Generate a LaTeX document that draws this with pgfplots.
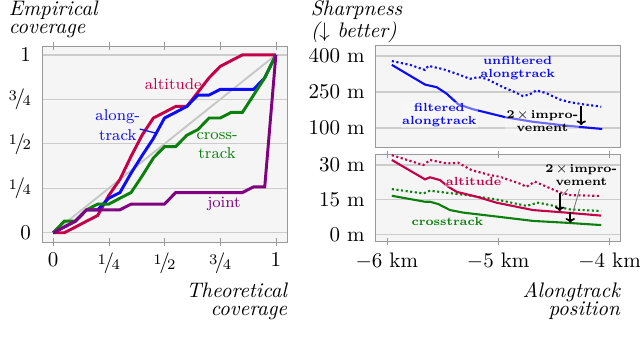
\documentclass[border=0pt]{standalone}
\usepackage{pgfplots}
\pgfplotsset{compat=1.18}
\usetikzlibrary{arrows.meta}
\definecolor{cAlt}{RGB}{196,0,72}
\definecolor{cAlong}{RGB}{12,12,245}
\definecolor{cCross}{RGB}{12,128,12}
\definecolor{cJoint}{RGB}{128,0,128}
\newcommand{\nf}[2]{\raisebox{.45ex}{\scriptsize #1}\kern-.12em/\kern-.12em\raisebox{-.1ex}{\scriptsize #2}}
\newcommand{\tls}{\lineskiplimit=-20pt\relax}
\newcommand{\ttl}{\itshape\fontsize{10}{8.6}\selectfont\tls}
\newcommand{\ttlb}{\itshape\fontsize{10}{10.6}\selectfont\tls}
\pgfplotsset{
  base/.style={
    scale only axis, clip=false,
    axis background/.style={fill=black!4},
    axis line style={draw=black!40},
    ymajorgrids, major grid style={draw=black!20,line width=0.6pt},
    tick align=center, major tick length=3.5pt,
    xtick style={draw=black!40}, ytick style={draw=none},
  },
}
\tikzset{
  ann/.style={font=\fontsize{5.6}{6.4}\selectfont\bfseries, align=center, inner sep=0.5pt},
  lann/.style={font=\fontsize{7.5}{9.5}\selectfont, align=center, inner sep=0.5pt},
  veil/.style={fill=black!1, fill opacity=0.4, text opacity=1},
}
\begin{document}
\begin{tikzpicture}
\path[use as bounding box] (0,0) rectangle (304.76pt,165.71pt);
% titles
\node[anchor=north west, align=left, inner sep=0pt, font=\ttl] at (4pt,165.5pt) {Empirical\\coverage};
\node[anchor=north east, align=right, inner sep=0pt, font=\ttl] at (136.9pt,31pt) {Theoretical\\coverage};
\node[anchor=north west, align=left, inner sep=0pt, font=\ttlb] at (147.8pt,165.6pt) {Sharpness\\($\downarrow$ better)};
\node[anchor=north east, align=right, inner sep=0pt, font=\ttl] at (295.4pt,31.2pt) {Alongtrack\\position};

% ---------------- left: coverage
\begin{axis}[base, at={(20pt,50.48pt)}, anchor=south west, width=116.67pt, height=93.33pt,
  xmin=-0.05, xmax=1.05, ymin=-0.052, ymax=1.05,
  xtick={0,0.25,0.5,0.75,1}, xticklabels={$0$,\nf14,\nf12,\nf34,$1$},
  ytick={0,0.25,0.5,0.75,1}, yticklabels={$0$,\nf14,\nf12,\nf34,$1$}]
\addplot[black!22, line width=0.9pt] coordinates {(0,0)(1,1)};
\addplot[cAlt, line width=1.4pt] coordinates {
(0,0)(0.05,0)(0.1,0.032)(0.15,0.065)(0.2,0.097)(0.25,0.21)(0.3,0.30)(0.35,0.43)(0.4,0.55)
(0.45,0.645)(0.5,0.677)(0.55,0.71)(0.6,0.71)(0.65,0.79)(0.7,0.871)(0.75,0.935)(0.8,0.968)
(0.85,1)(0.9,1)(0.95,1)(1,1)};
\addplot[cAlong, line width=1.4pt] coordinates {
(0,0)(0.05,0.032)(0.1,0.065)(0.15,0.129)(0.2,0.129)(0.25,0.194)(0.3,0.226)(0.35,0.335)(0.4,0.435)
(0.45,0.53)(0.5,0.645)(0.55,0.677)(0.6,0.71)(0.65,0.774)(0.7,0.774)(0.75,0.806)(0.8,0.806)
(0.85,0.806)(0.9,0.806)(0.95,0.871)(1,1)};
\addplot[cCross, line width=1.4pt] coordinates {
(0,0)(0.05,0.065)(0.1,0.065)(0.15,0.129)(0.2,0.161)(0.25,0.161)(0.3,0.194)(0.35,0.226)(0.4,0.32)
(0.45,0.42)(0.5,0.484)(0.55,0.484)(0.6,0.548)(0.65,0.58)(0.7,0.645)(0.75,0.645)(0.8,0.677)
(0.85,0.677)(0.9,0.774)(0.95,0.871)(1,1)};
\addplot[cJoint, line width=1.4pt] coordinates {
(0,0)(0.05,0.032)(0.1,0.065)(0.15,0.129)(0.2,0.129)(0.25,0.129)(0.3,0.129)(0.35,0.161)(0.4,0.161)
(0.45,0.161)(0.5,0.161)(0.55,0.226)(0.6,0.226)(0.65,0.226)(0.7,0.226)(0.75,0.226)(0.8,0.226)
(0.85,0.226)(0.9,0.258)(0.95,0.258)(1,1)};
\draw[cAlong, line width=0.6pt] (axis cs:0.389,0.583) -- (axis cs:0.464,0.559);
\node[lann, text=cAlt] at (axis cs:0.539,0.837) {altitude};
\node[lann, text=cAlong] at (axis cs:0.29,0.606) {along-\\track};
\node[lann, text=cCross] at (axis cs:0.736,0.49) {cross-\\track};
\node[lann, text=cJoint] at (axis cs:0.767,0.162) {joint};
\end{axis}

% ---------------- right top: alongtrack sharpness
\begin{axis}[base, at={(178.9pt,95.71pt)}, anchor=south west, width=116.67pt, height=48.24pt,
  xmin=-6.1, xmax=-3.9, ymin=21, ymax=443,
  xtick={-6,-5,-4}, xticklabels={}, xtick style={draw=none},
  ytick={100,250,400}, yticklabels={100 m,250 m,400 m}]
\addplot[cAlong, line width=1pt, dash pattern=on 1pt off 1.2pt] coordinates {
(-5.955,379)(-5.791,363)(-5.657,342)(-5.627,359)(-5.493,345)(-5.373,326)(-5.254,305)(-5.18,312)
(-5.105,305)(-4.956,270)(-4.867,253)(-4.777,233)(-4.717,240)(-4.657,257)(-4.568,245)(-4.448,219)
(-4.359,208)(-4.24,199)(-4.075,189)};
\addplot[cAlong, line width=1pt] coordinates {
(-5.955,363)(-5.657,281)(-5.552,270)(-5.463,243)(-5.359,199)(-5.225,178)(-4.926,144)(-4.687,126)
(-4.389,110)(-4.066,96)};
\node[ann, text=cAlong] at (axis cs:-4.825,350) {unfiltered\\alongtrack};
\node[ann, text=cAlong, veil] at (axis cs:-5.529,153) {filtered\\alongtrack};
\node[ann, veil] at (axis cs:-4.603,130) {2\,$\times$\,impro-\\vement};
\draw[black, line width=0.8pt, -{To[length=2.2pt,width=4.5pt]}] (axis cs:-4.254,192) -- (axis cs:-4.254,112);
\end{axis}

% ---------------- right bottom: altitude / crosstrack
\begin{axis}[base, at={(178.9pt,50.62pt)}, anchor=south west, width=116.67pt, height=41.43pt,
  xmin=-6.1, xmax=-3.9, ymin=-3.2, ymax=34.5,
  xtick={-6,-5,-4}, xticklabels={$-6$ km,$-5$ km,$-4$ km},
  ytick={0,15,30}, yticklabels={0 m,15 m,30 m}]
\addplot[cAlt, line width=1pt, dash pattern=on 1pt off 1.2pt] coordinates {
(-5.955,34.3)(-5.672,30)(-5.612,32.2)(-5.463,30.7)(-5.359,31)(-5.239,27.8)(-5.075,25.7)(-4.986,24.9)
(-4.807,22)(-4.747,20.6)(-4.672,22.8)(-4.598,21.3)(-4.464,18.5)(-4.359,17)(-4.075,16.6)};
\addplot[cCross, line width=1pt, dash pattern=on 1pt off 1.2pt] coordinates {
(-5.955,19.6)(-5.672,17.7)(-5.612,18.9)(-5.463,18)(-5.284,17)(-5.015,15.1)(-4.986,14.8)
(-4.747,12.3)(-4.642,13.7)(-4.538,12.7)(-4.359,10.8)(-4.075,10.1)};
\addplot[cAlt, line width=1pt] coordinates {
(-5.955,32.2)(-5.657,23.8)(-5.612,24.7)(-5.523,23.5)(-5.448,20.6)(-5.373,18.4)(-5.194,16.3)
(-5.015,13.7)(-4.687,10.5)(-4.389,9.4)(-4.075,8.1)};
\addplot[cCross, line width=1pt] coordinates {
(-5.955,16.7)(-5.657,14.1)(-5.612,14.1)(-5.538,13.1)(-5.433,10.5)(-5.314,9.4)(-5.015,7.7)
(-4.687,5.8)(-4.389,5.0)(-4.075,4.0)};
\node[ann, text=cAlt, veil] at (axis cs:-5.221,22.8) {altitude};
\node[ann, text=cCross] at (axis cs:-5.457,5.76) {crosstrack};
\node[ann] at (axis cs:-4.254,25.8) {2\,$\times$\,impro-\\vement};
\draw[black!55, line width=0.4pt] (axis cs:-4.374,19.5) -- (axis cs:-4.425,16.8);
\draw[black!55, line width=0.4pt] (axis cs:-4.269,19.5) -- (axis cs:-4.328,9.8);
\draw[black, line width=0.8pt, -{To[length=2.2pt,width=4.5pt]}] (axis cs:-4.448,17.7) -- (axis cs:-4.448,10.0);
\draw[black, line width=0.8pt, -{To[length=2.2pt,width=4.5pt]}] (axis cs:-4.353,9.8) -- (axis cs:-4.353,5.0);
\end{axis}
\end{tikzpicture}
\end{document}
